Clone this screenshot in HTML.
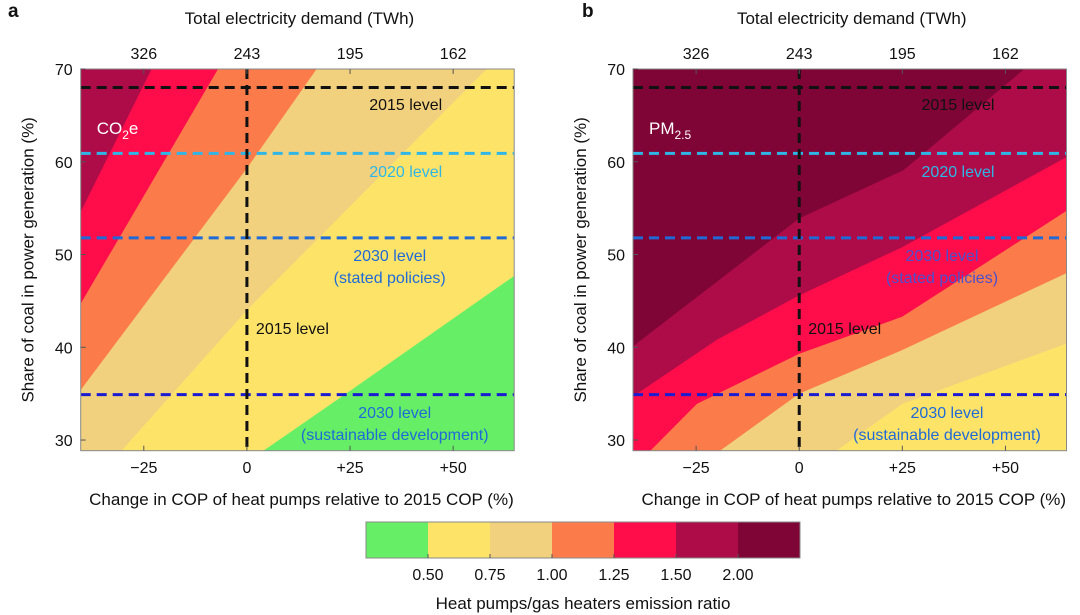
<!DOCTYPE html>
<html><head><meta charset="utf-8"><style>
body{margin:0;background:#fff;}
svg{display:block;font-family:"Liberation Sans",Arial,sans-serif;}
</style></head><body>
<svg id="chart" width="1080" height="615"></svg>
<script>
const NS="http://www.w3.org/2000/svg";
const svg=document.getElementById('chart');
// ---- data ----
const copTicks=[-25,0,25,50];
const copTickLabels=["\u221225","0","+25","+50"];
const demandLabels=["326","243","195","162"];
const coalTicks=[30,40,50,60,70];
const binColors=["#66ef66","#fde469","#f1d17e","#fc7b4a","#fe0d4a","#ae0c48","#7f0536"];
const binLabels=["0.50","0.75","1.00","1.25","1.50","2.00"];
const refLevels=[68,60.9,51.8,34.9];
const refColors=["#111","#2fb6e6","#1f6ad6","#1b1bd0"];
// boundaries [cop change %, coal share %], key k: region below/right has colour bin k-1
const boundA={
 5:[[-40.3,54.6],[-23.1,70]],
 4:[[-40.3,44.7],[-7,70]],
 3:[[-40.3,35.4],[0,59.3],[16.9,70]],
 2:[[-30.4,28.85],[0,44.0],[58.1,70]],
 1:[[4.0,28.85],[25,35.3],[64.8,47.7]]
};
const boundB={
 6:[[-40.3,40.1],[0,53.9],[25.3,59.1],[54.6,70]],
 5:[[-40.3,34.7],[-20,40.8],[0,45.6],[25,50.8],[64.8,60.5]],
 4:[[-36.1,28.85],[-24.8,33.9],[0,39.3],[25,43.3],[64.8,54.7]],
 3:[[-19.2,28.85],[0,35.0],[25,39.7],[64.8,48.0]],
 2:[[9.0,28.85],[25,33.9],[64.8,40.4]]
};
const X0=-40.3,X1=64.8,Y0=28.85,Y1=70;
function el(t,a,p){const e=document.createElementNS(NS,t);for(const k in a)e.setAttribute(k,a[k]);(p||svg).appendChild(e);return e;}
function txt(s,x,y,o,p){const e=el('text',Object.assign({x:x,y:y,'font-size':16,fill:'#111'},o||{}),p);e.textContent=s;return e;}

function panel(id,left,bounds,topColor,label,labelSub,letter,letterX){
 const W=433.5,T=69,B=450.7;
 const sx=v=>left+(v-X0)/(X1-X0)*W;
 const sy=v=>B-(v-Y0)/(Y1-Y0)*(B-T);
 const g=el('g',{});
 
 
 const cp=el('clipPath',{id:'clip'+id},g);
 el('rect',{x:sx(X0),y:T,width:W,height:B-T},cp);
 const area=el('g',{'clip-path':'url(#clip'+id+')'},g);
 const bg=el('rect',{x:sx(X0),y:T,width:W,height:B-T,fill:binColors[topColor]},area);
 
 
 Object.keys(bounds).map(Number).sort((a,b)=>b-a).forEach(k=>{
  const pts=bounds[k].slice();
  const last=pts[pts.length-1];
  if(last[1]>=Y1-0.01)pts.push([X1+1,Y1+1]);
  pts.push([X1+1,Y0-1]);pts.push([X0-1,Y0-1]);
  const p=el('polygon',{points:pts.map(q=>sx(q[0])+','+sy(q[1])).join(' '),fill:binColors[k-1]},area);
  
  
 });
 refLevels.forEach((v,i)=>{
  const l=el('line',{x1:sx(X0),x2:sx(X1),y1:sy(v),y2:sy(v),stroke:refColors[i],'stroke-width':3,'stroke-dasharray':'10,6'},g);
  
  
 });
 const vl=el('line',{x1:sx(0),x2:sx(0),y1:T,y2:B,stroke:'#111','stroke-width':3,'stroke-dasharray':'10,6'},g);
 
 
 el('rect',{x:sx(X0),y:T,width:W,height:B-T,fill:'none',stroke:'#888','stroke-width':1},g);
 copTicks.forEach((v,i)=>{
  el('line',{x1:sx(v),x2:sx(v),y1:B,y2:B-5,stroke:'#555'},g);
  el('line',{x1:sx(v),x2:sx(v),y1:T,y2:T+5,stroke:'#555'},g);
  const a=txt(copTickLabels[i],sx(v),473,{'text-anchor':'middle'},g);
  
  
  const b=txt(demandLabels[i],sx(v),59,{'text-anchor':'middle'},g);
  
  
 });
 coalTicks.forEach(v=>{
  el('line',{x1:sx(X0),x2:sx(X0)+5,y1:sy(v),y2:sy(v),stroke:'#555'},g);
  const a=txt(String(v),sx(X0)-8,sy(v)+6,{'text-anchor':'end'},g);
  
  
 });
 const cx=left+W/2;
 const t1=txt('Total electricity demand (TWh)',cx+2,24,{'text-anchor':'middle','font-size':17},g);
 
 
 const t2=txt('Change in COP of heat pumps relative to 2015 COP (%)',cx+4,505,{'text-anchor':'middle','font-size':17},g);
 
 
 const yx=left-47,yy=(T+B)/2;
 const t3=txt('Share of coal in power generation (%)',yx,yy,{'text-anchor':'middle','font-size':17,transform:'rotate(-90 '+yx+' '+yy+')'},g);
 
 
 const L=txt(letter,letterX,17,{'font-weight':'bold','font-size':19},g);
 
 
 const sp=txt(label,left+16,134,{fill:'#fff','font-size':17},g);
 const sub=el('tspan',{'font-size':12,dy:5},sp);sub.textContent=labelSub[0];
 if(labelSub[1]){const s2=el('tspan',{dy:-5,'font-size':17},sp);s2.textContent=labelSub[1];}
 
 
 const ann=[['2015 level',left+325,110,'#111','middle'],['2020 level',left+325,177,'#2fb6e6','middle'],
  ['2030 level',left+309,261,id==='panel-b'?'#4a4fcc':'#1f6ad6','middle'],['(stated policies)',left+309,283,id==='panel-b'?'#4a4fcc':'#1f6ad6','middle'],
  ['2015 level',sx(0)+9,334,'#111','start'],['2030 level',left+314,418,'#1f6ad6','middle'],['(sustainable development)',left+314,440,'#1f6ad6','middle']];
 ann.forEach(a=>{const t=txt(a[0],a[1],a[2],{fill:a[3],'text-anchor':a[4]},g);
  
  });
}
panel('panel-a',80.7,boundA,5,'CO',['2','e'],'a',8);
panel('panel-b',633,boundB,6,'PM',['2.5'],'b',582);
const cb=el('g',{});


const cbx=366,cbw=62,cby=522,cbh=36;
binColors.forEach((c,i)=>{
 const r=el('rect',{x:cbx+i*cbw,y:cby,width:cbw+0.5,height:cbh,fill:c},cb);
 
 
});
el('rect',{x:cbx,y:cby,width:cbw*7,height:cbh,fill:'none',stroke:'#888'},cb);
binLabels.forEach((s,i)=>{
 const x=cbx+(i+1)*cbw;
 el('line',{x1:x,x2:x,y1:cby+cbh,y2:cby+cbh-4,stroke:'#555'},cb);
 const t=txt(s,x,580,{'text-anchor':'middle'},cb);
 
 
});
const ct=txt('Heat pumps/gas heaters emission ratio',583,609,{'text-anchor':'middle','font-size':17},cb);


</script>
</body></html>
